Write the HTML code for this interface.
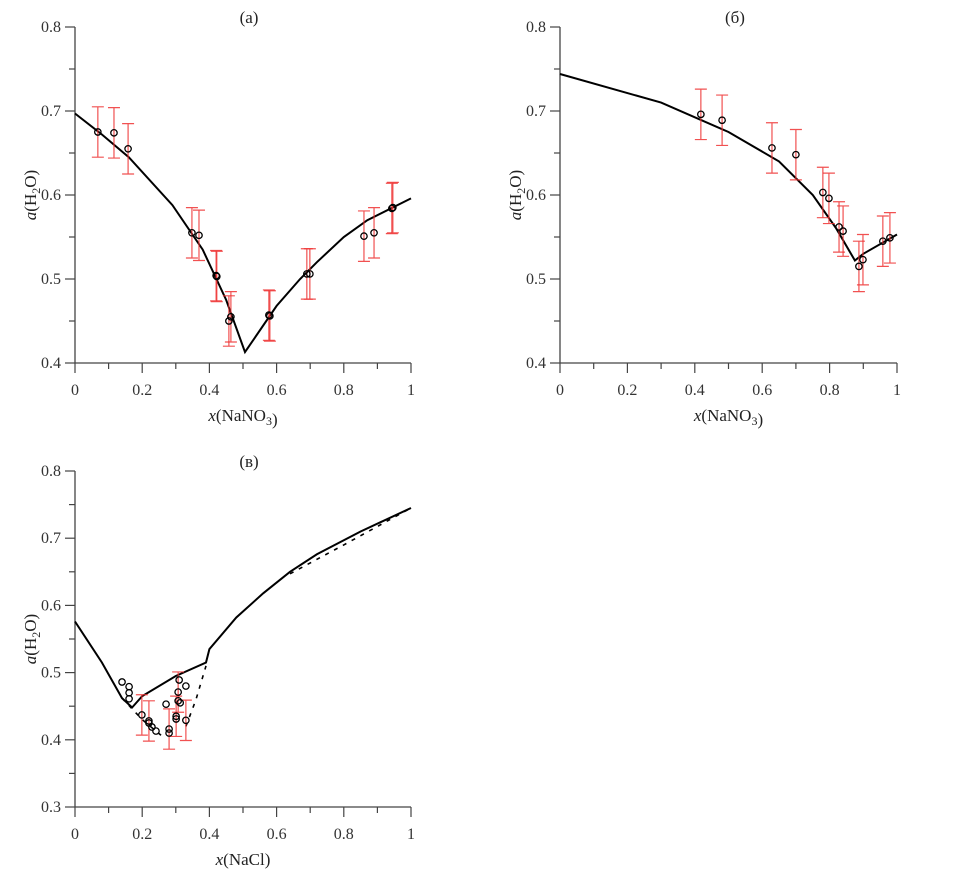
<!DOCTYPE html>
<html><head><meta charset="utf-8">
<style>
html,body{margin:0;padding:0;background:#fff;}
svg{display:block;}
svg text{font-family:"Liberation Serif","Times New Roman",serif;}
</style></head>
<body>
<svg id="fig" width="976" height="882" viewBox="0 0 976 882" xmlns="http://www.w3.org/2000/svg" font-family="Liberation Serif, serif"></svg>
<script>
// ---- Panel (а) data ----
const aLineX=[0,0.08,0.16,0.29,0.38,0.45,0.506,0.6,0.67,0.72,0.8,0.87,1];
const aLineY=[0.697,0.672,0.645,0.588,0.535,0.475,0.413,0.468,0.5,0.52,0.55,0.57,0.596];
const aPtX=[0.068,0.116,0.158,0.348,0.369,0.42,0.422,0.458,0.464,0.577,0.58,0.69,0.699,0.86,0.89,0.943,0.946];
const aPtY=[0.675,0.674,0.655,0.555,0.552,0.504,0.503,0.450,0.455,0.457,0.456,0.506,0.506,0.551,0.555,0.584,0.585];
const aErr=[0.03,0.03,0.03,0.03,0.03,0.03,0.03,0.03,0.03,0.03,0.03,0.03,0.03,0.03,0.03,0.03,0.03];
// ---- Panel (б) data ----
const bLineX=[0,0.3,0.5,0.65,0.75,0.82,0.875,0.9,1];
const bLineY=[0.744,0.71,0.675,0.64,0.6,0.56,0.522,0.53,0.553];
const bPtX=[0.418,0.481,0.629,0.700,0.780,0.798,0.828,0.840,0.887,0.899,0.958,0.979];
const bPtY=[0.696,0.689,0.656,0.648,0.603,0.596,0.562,0.557,0.515,0.523,0.545,0.549];
const bErr=[0.03,0.03,0.03,0.03,0.03,0.03,0.03,0.03,0.03,0.03,0.03,0.03];
// ---- Panel (в) data ----
const cLineX=[0,0.08,0.14,0.17,0.2,0.3,0.39,0.4,0.48,0.56,0.64,0.72,0.85,1];
const cLineY=[0.576,0.515,0.462,0.448,0.465,0.495,0.515,0.535,0.582,0.618,0.65,0.676,0.71,0.745];
const cDash1X=[0.14,0.2,0.26]; const cDash1Y=[0.462,0.43,0.405];
const cDash2X=[0.33,0.36,0.39]; const cDash2Y=[0.42,0.46,0.51];
const cDash3X=[0.64,0.8,1]; const cDash3Y=[0.647,0.69,0.745];
const cPtX=[0.140,0.161,0.161,0.161,0.199,0.220,0.220,0.229,0.241,0.271,0.280,0.280,0.301,0.301,0.307,0.307,0.310,0.313,0.330,0.330];
const cPtY=[0.486,0.479,0.470,0.461,0.437,0.428,0.425,0.419,0.413,0.453,0.416,0.410,0.435,0.431,0.458,0.471,0.489,0.455,0.480,0.429];
const cErr=[0,0,0,0,0.03,0.03,0,0,0,0,0.03,0,0.03,0,0,0.03,0,0,0,0.03];
const xTicks=[0,0.2,0.4,0.6,0.8,1];
const xTickLabels=["0","0.2","0.4","0.6","0.8","1"];

const NS="http://www.w3.org/2000/svg";
const svg=document.getElementById('fig');
const FF='"Liberation Serif", "Times New Roman", serif';
function mk(tag,attrs,parent){const e=document.createElementNS(NS,tag);for(const k in attrs)e.setAttribute(k,attrs[k]);if(tag==='text')e.style.fontFamily=FF;(parent||svg).appendChild(e);return e;}

function panel(p){
  const g=mk('g',{});
  
  
  const sx=v=>p.x0+v*(p.x1-p.x0);
  const sy=v=>p.yb+(v-p.ymin)/(p.ymax-p.ymin)*(p.yt-p.yb);
  const ax=mk('path',{d:`M${p.x0},${p.yt} V${p.yb} H${p.x1}`,stroke:'#444','stroke-width':1.3,fill:'none'},g);
  
  
  for(let i=0;i<=10;i++){const v=i/10;const X=sx(v);mk('line',{x1:X,x2:X,y1:p.yb,y2:p.yb+(i%2?6:10),stroke:'#444','stroke-width':1.2},g);}
  xTicks.forEach((v,i)=>{const t=mk('text',{x:sx(v),y:p.yb+32,'font-size':16,fill:'#333','text-anchor':'middle'},g);t.textContent=xTickLabels[i];
    
    });
  const n=Math.round((p.ymax-p.ymin)/0.05);
  for(let i=0;i<=n;i++){const v=p.ymin+i*0.05;const Y=sy(v);mk('line',{x1:p.x0,x2:p.x0-(i%2?6:10),y1:Y,y2:Y,stroke:'#444','stroke-width':1.2},g);
    if(i%2===0){const t=mk('text',{x:p.x0-14,y:Y+5,'font-size':16,fill:'#333','text-anchor':'end'},g);t.textContent=v.toFixed(1);
      
      }}
  const xt=mk('text',{x:(p.x0+p.x1)/2,y:p.yb+58,'font-size':17,fill:'#222','text-anchor':'middle'},g);
  xt.innerHTML=`<tspan font-style="italic">x</tspan>(${p.xlab})`;
  
  
  const cy=(p.yt+p.yb)/2;
  const yt=mk('text',{x:p.x0-39,y:cy,'font-size':17,fill:'#222','text-anchor':'middle',transform:`rotate(-90 ${p.x0-39} ${cy})`},g);
  yt.innerHTML='<tspan font-style="italic">a</tspan>(H<tspan font-size="12" dy="4">2</tspan><tspan dy="-4">O)</tspan>';
  
  
  const pt=mk('text',{x:p.tx,y:p.yt-4,'font-size':17,fill:'#222','text-anchor':'middle'},g);
  pt.textContent=p.title;
  
  
  p.lines.forEach(L=>{const d=L.x.map((v,i)=>(i?'L':'M')+sx(v).toFixed(1)+','+sy(L.y[i]).toFixed(1)).join(' ');
    const pl=mk('path',{d,stroke:'#000','stroke-width':L.dash?1.6:2,fill:'none','stroke-dasharray':L.dash?'4,6':'none'},g);
    
    });
  p.px.forEach((v,i)=>{const e=p.err[i];if(!e)return;const X=sx(v),Y1=sy(p.py[i]+e),Y2=sy(p.py[i]-e);
    const eb=mk('path',{d:`M${X},${Y1} V${Y2} M${X-6},${Y1} H${X+6} M${X-6},${Y2} H${X+6}`,stroke:'#ee3333','stroke-width':1.2,fill:'none',opacity:0.85},g);
    
    });
  p.px.forEach((v,i)=>{const c=mk('circle',{cx:sx(v),cy:sy(p.py[i]),r:3.2,fill:'none',stroke:'#000','stroke-width':1.3},g);
    
    });
}

panel({name:'panel-a',x0:75,x1:411,yt:27,yb:363,ymin:0.4,ymax:0.8,xlab:'NaNO<tspan font-size="12" dy="4">3</tspan><tspan dy="-4"></tspan>',title:'(а)',tx:249,
  lines:[{x:aLineX,y:aLineY}],px:aPtX,py:aPtY,err:aErr});
panel({name:'panel-b',x0:560,x1:897,yt:27,yb:363,ymin:0.4,ymax:0.8,xlab:'NaNO<tspan font-size="12" dy="4">3</tspan><tspan dy="-4"></tspan>',title:'(б)',tx:735,
  lines:[{x:bLineX,y:bLineY}],px:bPtX,py:bPtY,err:bErr});
panel({name:'panel-c',x0:75,x1:411,yt:471,yb:807,ymin:0.3,ymax:0.8,xlab:'NaCl',title:'(в)',tx:249,
  lines:[{x:cLineX,y:cLineY},{x:cDash1X,y:cDash1Y,dash:1},{x:cDash2X,y:cDash2Y,dash:1},{x:cDash3X,y:cDash3Y,dash:1}],px:cPtX,py:cPtY,err:cErr});
</script>
</body></html>
